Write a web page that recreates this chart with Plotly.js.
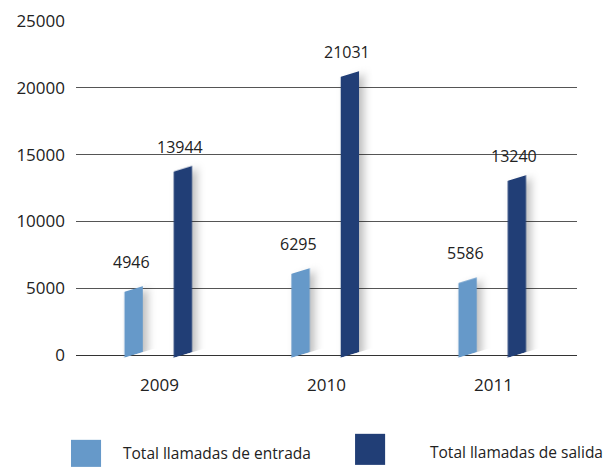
<!DOCTYPE html>
<html>
<head>
<meta charset="utf-8">
<script src="https://cdn.plot.ly/plotly-3.0.1.min.js"></script>
<style>
  body { margin: 0; background: #fff; }
  #chart { width: 614px; height: 467px; }
  /* slanted bars with a soft shadow, like the original */
  .trace.bars path {
    transform-box: fill-box;
    transform-origin: center;
    transform: skewY(-17deg);
    filter: drop-shadow(5px 5px 4px rgba(0,0,0,0.25));
  }
  .cartesianlayer .plot { clip-path: none !important; }
</style>
</head>
<body>
<div id="chart"></div>
<script>
const years = ["2009", "2010", "2011"];
const entrada = [4946, 6295, 5586];
const salida = [13944, 21031, 13240];
const seriesNames = ["Total llamadas de entrada", "Total llamadas de salida"];
const colors = ["#6699c9", "#213e76"];

const font = "'Open Sans', 'Noto Sans', sans-serif";

const traces = [
  {
    type: "bar", name: seriesNames[0], x: years, y: entrada,
    width: 0.11, offset: -0.21,
    marker: { color: colors[0] }, cliponaxis: false, hoverinfo: "skip"
  },
  {
    type: "bar", name: seriesNames[1], x: years, y: salida,
    width: 0.11, offset: 0.085,
    marker: { color: colors[1] }, cliponaxis: false, hoverinfo: "skip"
  }
];

// value labels above each bar (x given as category index)
const annotations = [];
years.forEach((yr, i) => {
  annotations.push({ x: i, y: entrada[i], text: String(entrada[i]), xref: "x", yref: "y",
    showarrow: false, xshift: -28, yshift: 27, font: { family: font, size: 16, color: "#222" } });
  annotations.push({ x: i, y: salida[i], text: String(salida[i]), xref: "x", yref: "y",
    showarrow: false, xshift: 20, yshift: 22, font: { family: font, size: 16, color: "#222" } });
});

// legend drawn by hand to get the large square swatches
annotations.push({ x: 0.09, y: -0.293, xref: "paper", yref: "paper", yanchor: "middle", xanchor: "left",
  showarrow: false, text: seriesNames[0], font: { family: font, size: 15.5, color: "#222" } });
annotations.push({ x: 0.703, y: -0.29, xref: "paper", yref: "paper", yanchor: "middle", xanchor: "left",
  showarrow: false, text: seriesNames[1], font: { family: font, size: 15.5, color: "#222" } });

const shapes = [
  { type: "rect", xref: "paper", yref: "paper", x0: -0.01, x1: 0.05, y0: -0.335, y1: -0.254,
    fillcolor: colors[0], line: { width: 0 } },
  { type: "rect", xref: "paper", yref: "paper", x0: 0.557, x1: 0.617, y0: -0.329, y1: -0.236,
    fillcolor: colors[1], line: { width: 0 } }
];

const layout = {
  width: 614,
  height: 467,
  margin: { l: 76, r: 37, t: 21, b: 112 },
  paper_bgcolor: "#fff",
  plot_bgcolor: "#fff",
  showlegend: false,
  font: { family: font, size: 17, color: "#222" },
  xaxis: {
    type: "category",
    range: [-0.5, 2.5],
    showgrid: false, zeroline: false, showline: false,
    ticks: "", ticklabelstandoff: 18,
    tickfont: { family: font, size: 17 }
  },
  yaxis: {
    range: [0, 25000],
    dtick: 5000,
    tickformat: "d",
    showgrid: true, gridcolor: "#555", gridwidth: 1,
    zeroline: true, zerolinecolor: "#333", zerolinewidth: 1,
    showline: false, ticks: "", ticklabelstandoff: 10,
    tickfont: { family: font, size: 17 }
  },
  annotations: annotations,
  shapes: shapes
};

Plotly.newPlot("chart", traces, layout, { displayModeBar: false, staticPlot: true });
</script>
</body>
</html>
